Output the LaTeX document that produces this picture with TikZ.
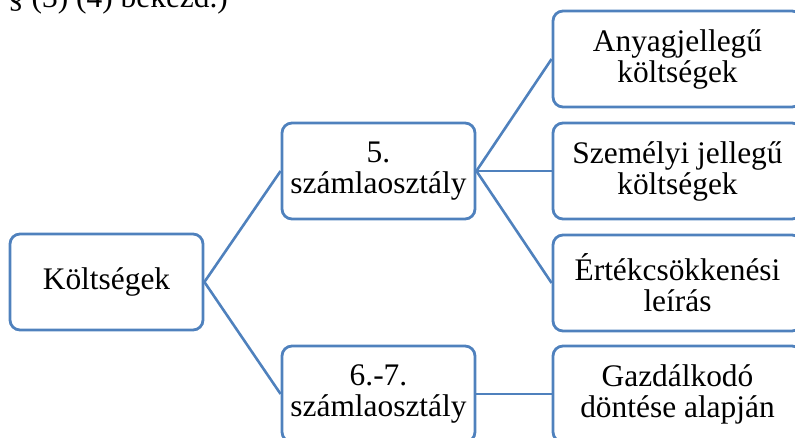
\documentclass[tikz,border=0pt]{standalone}
\usepackage{fontspec}
\setmainfont{Liberation Serif}
\definecolor{kekvonal}{RGB}{79,129,189}

\begin{document}
\begin{tikzpicture}[x=1pt,y=-1pt,font=\fontsize{31.4}{31}\selectfont,
  box/.style={draw=kekvonal,line width=2.8pt,rounded corners=10pt,minimum height=96pt,inner sep=0pt,align=center},
  vonal/.style={draw=kekvonal,line width=2.6pt}]
\useasboundingbox (0,0) rectangle (795,437);
\clip (0,0) rectangle (795,437);
\node[anchor=base west,inner sep=0pt] (forras) at (8,7) {\S~(3) (4) bekezd.)};
\node[box,minimum width=193pt] (kolt) at (106.5,282) {Költségek};
\node[box,minimum width=193pt] (szo5) at (378.5,171) {5.\\számlaosztály};
\node[box,minimum width=193pt] (szo67) at (378.5,394) {6.-7.\\számlaosztály};
\foreach \y/\n/\txt in {59/r1/{Anyagjellegű\\költségek},171/r2/{Személyi jellegű\\költségek},283/r3/{Értékcsökkenési\\leírás},394/r4/{Gazdálkodó\\döntése alapján}}
  \node[box,minimum width=249pt] (\n) at (677.5,\y) {\txt};
\foreach \a/\b in {kolt/szo5,kolt/szo67,szo5/r1,szo5/r2,szo5/r3,szo67/r4}
  \draw[vonal] (\a.east)--(\b.west);
\end{tikzpicture}
\end{document}
